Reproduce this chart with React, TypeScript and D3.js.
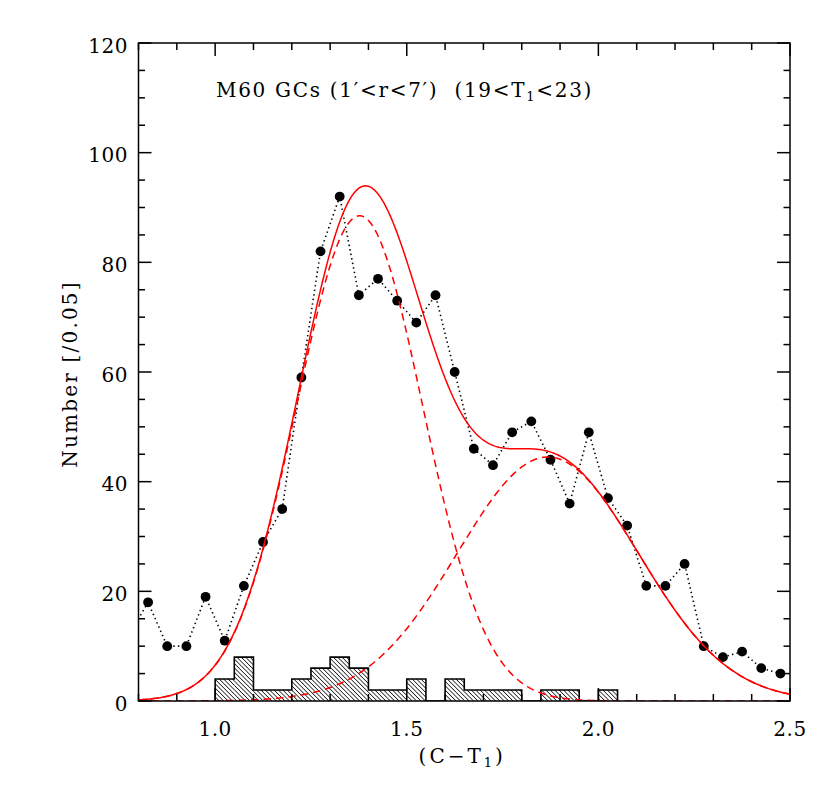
import React from "react";
import * as d3 from "d3";

// ---- data ----
const binCenters = [
  0.775, 0.825, 0.875, 0.925, 0.975, 1.025, 1.075, 1.125, 1.175, 1.225, 1.275, 1.325,
  1.375, 1.425, 1.475, 1.525, 1.575, 1.625, 1.675, 1.725, 1.775, 1.825, 1.875,
  1.925, 1.975, 2.025, 2.075, 2.125, 2.175, 2.225, 2.275, 2.325, 2.375, 2.425, 2.475,
];
const counts = [
  12, 18, 10, 10, 19, 11, 21, 29, 35, 59, 82, 92,
  74, 77, 73, 69, 74, 60, 46, 43, 49, 51, 44,
  36, 49, 37, 32, 21, 21, 25, 10, 8, 9, 6, 5,
];

const histLeftEdges = [
  1.0, 1.05, 1.1, 1.15, 1.2, 1.25, 1.3, 1.35, 1.4, 1.45, 1.5, 1.55, 1.6, 1.65, 1.7,
  1.75, 1.8, 1.85, 1.9, 1.95, 2.0,
];
const histValues = [4, 8, 2, 2, 4, 6, 8, 6, 2, 2, 4, 0, 4, 2, 2, 2, 0, 2, 2, 0, 2];
const histBinWidth = 0.05;

// Gaussian fit components (blue, red)
const gaussAmp = [88.5, 44.5];
const gaussMean = [1.377, 1.868];
const gaussSigma = [0.165, 0.236];

const xMajorTicks = [1.0, 1.5, 2.0, 2.5];
const xMajorLabels = ["1.0", "1.5", "2.0", "2.5"];
const xMinorTicks = [0.8, 0.9, 1.1, 1.2, 1.3, 1.4, 1.6, 1.7, 1.8, 1.9, 2.1, 2.2, 2.3, 2.4];
const yMajorTicks = [0, 20, 40, 60, 80, 100, 120];
const yMinorTicks = [5, 10, 15, 25, 30, 35, 45, 50, 55, 65, 70, 75, 85, 90, 95, 105, 110, 115];

const titleMain = "M60 GCs (1\u2032<r<7\u2032)\u00a0\u00a0(19<T";
const titleSub = "1";
const titleEnd = "<23)";
const yLabel = "Number [/0.05]";

// ---- layout ----
const W = 830;
const H = 789;
const L = 138.5;
const R = 790;
const T = 43;
const B = 701;
const FONT = "'DejaVu Serif', serif";

export default function App() {
  const x = d3.scaleLinear().domain([0.8, 2.5]).range([L, R]);
  const y = d3.scaleLinear().domain([0, 120]).range([B, T]);

  const gauss = (i: number, v: number) =>
    gaussAmp[i] * Math.exp(-((v - gaussMean[i]) ** 2) / (2 * gaussSigma[i] ** 2));
  const grid = d3.range(0.8, 2.5001, 0.004);
  const line = d3
    .line<[number, number]>()
    .x((d) => x(d[0]))
    .y((d) => y(d[1]));
  const comp0 = line(grid.map((v) => [v, gauss(0, v)]));
  const comp1 = line(grid.map((v) => [v, gauss(1, v)]));
  const total = line(grid.map((v) => [v, gauss(0, v) + gauss(1, v)]));
  const dataLine = line(binCenters.map((c, i) => [c, counts[i]]));

  // histogram step outline
  let step = `M${x(histLeftEdges[0])},${y(0)}`;
  histLeftEdges.forEach((e, i) => {
    step += `L${x(e)},${y(histValues[i])}L${x(e + histBinWidth)},${y(histValues[i])}`;
  });
  step += `L${x(histLeftEdges[histLeftEdges.length - 1] + histBinWidth)},${y(0)}`;

  return (
    <svg
      width={W}
      height={H}
      style={{ position: "absolute", left: 0, top: 0, background: "#fff" }}
      fontFamily={FONT}
    >
      <defs>
        <clipPath id="plotclip">
          <rect x={L} y={T} width={R - L} height={B - T} />
        </clipPath>
        <pattern
          id="hatch"
          patternUnits="userSpaceOnUse"
          width={3.1}
          height={3.1}
          patternTransform="rotate(-45)"
        >
          <line x1={0} y1={-1} x2={0} y2={5} stroke="#000" strokeWidth={1.4} />
        </pattern>
      </defs>

      {/* histogram */}
      <g clipPath="url(#plotclip)">
        {histLeftEdges.map((e, i) =>
          histValues[i] > 0 ? (
            <rect
              key={i}
              x={x(e)}
              y={y(histValues[i])}
              width={x(e + histBinWidth) - x(e)}
              height={y(0) - y(histValues[i])}
              fill="url(#hatch)"
            />
          ) : null
        )}
        <path d={step} fill="none" stroke="#000" strokeWidth={1.6} />
      </g>

      {/* data: dotted line + dots */}
      <g clipPath="url(#plotclip)">
        <path
          d={dataLine || ""}
          fill="none"
          stroke="#000"
          strokeWidth={1.6}
          strokeDasharray="1.4 3.2"
        />
        {binCenters.map((c, i) => (
          <circle key={i} cx={x(c)} cy={y(counts[i])} r={4.9} fill="#000" />
        ))}
      </g>

      {/* fits */}
      <g clipPath="url(#plotclip)" fill="none" stroke="#ff0000" strokeWidth={1.5}>
        <path d={comp0 || ""} strokeDasharray="7.5 5" />
        <path d={comp1 || ""} strokeDasharray="7.5 5" />
        <path d={total || ""} />
      </g>

      {/* frame */}
      <rect x={L} y={T} width={R - L} height={B - T} fill="none" stroke="#000" strokeWidth={1.5} />

      {/* ticks */}
      <g stroke="#000" strokeWidth={1.5}>
        {xMajorTicks.map((t) => (
          <g key={"xm" + t}>
            <line x1={x(t)} x2={x(t)} y1={B} y2={B - 13} />
            <line x1={x(t)} x2={x(t)} y1={T} y2={T + 13} />
          </g>
        ))}
        {xMinorTicks.map((t) => (
          <g key={"xn" + t}>
            <line x1={x(t)} x2={x(t)} y1={B} y2={B - 7} />
            <line x1={x(t)} x2={x(t)} y1={T} y2={T + 7} />
          </g>
        ))}
        {yMajorTicks.map((t) => (
          <g key={"ym" + t}>
            <line x1={L} x2={L + 13} y1={y(t)} y2={y(t)} />
            <line x1={R} x2={R - 13} y1={y(t)} y2={y(t)} />
          </g>
        ))}
        {yMinorTicks.map((t) => (
          <g key={"yn" + t}>
            <line x1={L} x2={L + 6.5} y1={y(t)} y2={y(t)} />
            <line x1={R} x2={R - 6.5} y1={y(t)} y2={y(t)} />
          </g>
        ))}
      </g>

      {/* tick labels */}
      <g fontSize={20} fill="#000" letterSpacing={0.5}>
        {xMajorTicks.map((t, i) => (
          <text key={"xl" + t} x={x(t)} y={736} textAnchor="middle">
            {xMajorLabels[i]}
          </text>
        ))}
        {yMajorTicks.map((t) => (
          <text key={"yl" + t} x={128} y={y(t) + 9.5} textAnchor="end">
            {t}
          </text>
        ))}
      </g>

      {/* axis titles */}
      <text x={(L + R) / 2 - 2} y={763} fontSize={20} textAnchor="middle" letterSpacing={3}>
        (C{"\u2212"}T
        <tspan fontSize={13} dy={4}>1</tspan>
        <tspan dy={-4}>)</tspan>
      </text>
      <text
        transform={`translate(77, ${(T + B) / 2 + 2}) rotate(-90)`}
        fontSize={20}
        textAnchor="middle"
        letterSpacing={2.2}
      >
        {yLabel}
      </text>

      {/* title */}
      <text x={216} y={97} fontSize={20} letterSpacing={1.7}>
        {titleMain}
        <tspan fontSize={13} dy={4}>{titleSub}</tspan>
        <tspan dy={-4}>{titleEnd}</tspan>
      </text>
    </svg>
  );
}
